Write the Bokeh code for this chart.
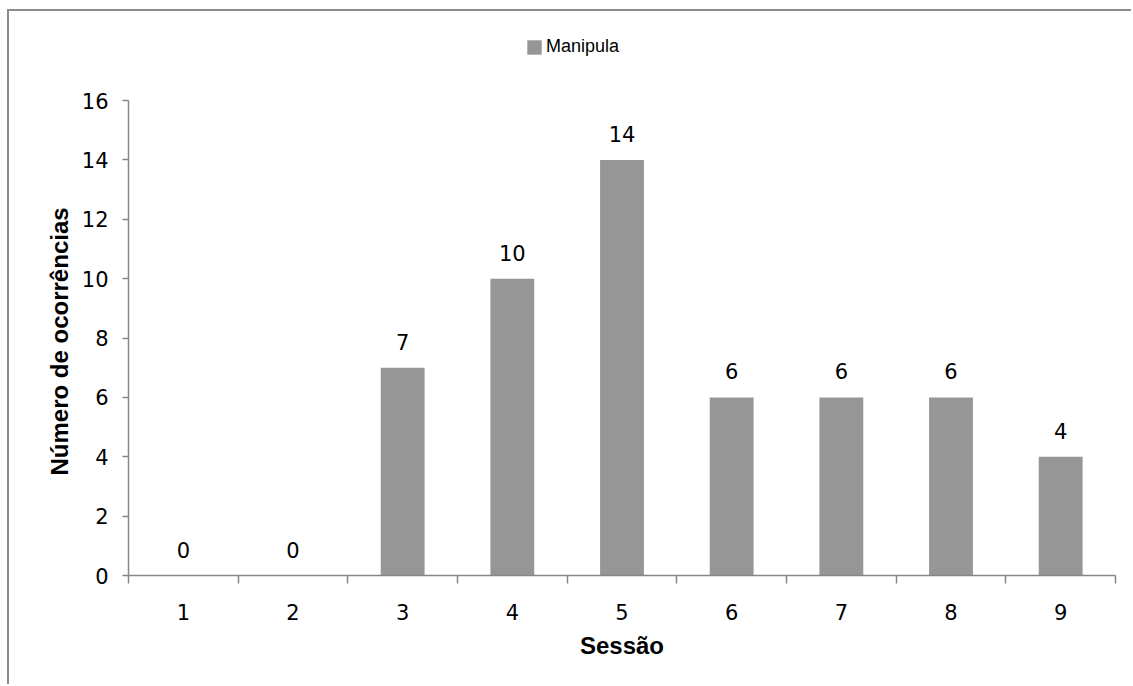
from bokeh.plotting import figure
from bokeh.models import Range1d, FixedTicker, Legend, LegendItem, ColumnDataSource, Title
from bokeh.core.properties import value
from bokeh.embed import file_html
from bokeh.resources import INLINE

sessions = [1, 2, 3, 4, 5, 6, 7, 8, 9]
session_labels = ["1", "2", "3", "4", "5", "6", "7", "8", "9"]
manipula = [0, 0, 7, 10, 14, 6, 6, 6, 4]
y_ticks = [0, 2, 4, 6, 8, 10, 12, 14, 16]
y_max = 16
series_name = "Manipula"
x_title = "Sessão"
y_title = "Número de ocorrências"

AX = "#868686"
BAR = "#969696"
TICKFONT = "DejaVu Sans"

src = ColumnDataSource(dict(x=sessions, top=manipula, lbl=[str(v) for v in manipula]))

# frame extends above the axis top so the legend can sit inside it
frame_h = 544
axis_h = 475
y_end = y_max * frame_h / axis_h

p = figure(width=1124, height=675, output_backend="svg", toolbar_location=None,
           x_range=Range1d(0.5, 9.5), y_range=Range1d(0, y_end),
           min_border_left=119, min_border_right=18, min_border_top=20, min_border_bottom=111)
p.styles = {"margin-left": "7px", "margin-top": "9px",
            "border-top": "2px solid #8c8c8c", "border-left": "2px solid #8c8c8c"}
p.outline_line_color = None
p.xgrid.visible = False
p.ygrid.visible = False
p.background_fill_color = "white"
p.border_fill_color = "white"

bars = p.vbar(x="x", top="top", width=0.4, source=src, fill_color=BAR, line_color=None)
p.text(x="x", y="top", text="lbl", source=src, text_align="center", text_baseline="alphabetic",
       y_offset=-26, text_font=value(TICKFONT), text_font_size="21px", text_color="#000000")

# x axis
xa = p.xaxis[0]
xa.ticker = FixedTicker(ticks=sessions, minor_ticks=[s - 0.5 for s in sessions] + [sessions[-1] + 0.5])
xa.major_label_overrides = {s: l for s, l in zip(sessions, session_labels)}
xa.major_tick_out = 0
xa.major_tick_in = 0
xa.minor_tick_out = 8
xa.minor_tick_in = 0
xa.minor_tick_line_color = AX
xa.minor_tick_line_width = 1.5
xa.axis_line_color = AX
xa.axis_line_width = 1.5
xa.major_label_text_font = TICKFONT
xa.major_label_text_font_size = "21px"
xa.major_label_text_color = "#000000"
xa.major_label_standoff = 20
xa.axis_label = x_title
xa.axis_label_text_font = "Liberation Sans"
xa.axis_label_text_font_style = "bold"
xa.axis_label_text_font_size = "24px"
xa.axis_label_text_color = "#000000"
xa.axis_label_standoff = 9

# y axis
ya = p.yaxis[0]
ya.ticker = FixedTicker(ticks=y_ticks, minor_ticks=[])
ya.bounds = (0, y_max)
ya.major_tick_out = 6
ya.major_tick_in = 0
ya.major_tick_line_color = AX
ya.major_tick_line_width = 1.5
ya.axis_line_color = AX
ya.axis_line_width = 1.5
ya.major_label_text_font = TICKFONT
ya.major_label_text_font_size = "21px"
ya.major_label_text_color = "#000000"
ya.major_label_standoff = 14

# y-axis title, centred on the axis (not on the taller frame)
yt = Title(text=y_title, align="left", offset=100, standoff=12,
           text_font="Liberation Sans", text_font_style="bold", text_font_size="24px",
           text_color="#000000")
p.add_layout(yt, "left")

legend = Legend(items=[LegendItem(label=series_name, renderers=[bars])],
                location=(397, 518), orientation="horizontal",
                glyph_width=18, glyph_height=18, label_height=18, label_standoff=3,
                label_text_font="Liberation Sans", label_text_font_size="18px",
                label_text_color="#000000", padding=0, margin=0, spacing=0,
                border_line_alpha=0, background_fill_alpha=0)
p.add_layout(legend, "center")

open("out.html", "w").write(file_html(p, INLINE))
